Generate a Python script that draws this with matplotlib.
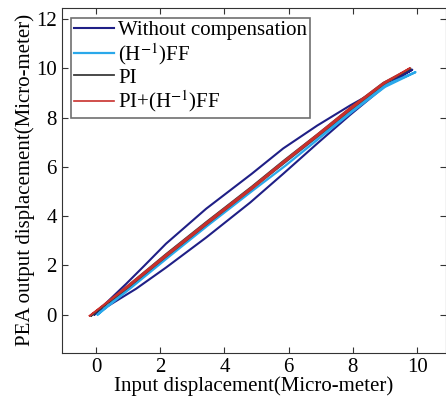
import numpy as np
import matplotlib.pyplot as plt

plt.rcParams['font.family'] = ['Liberation Serif', 'DejaVu Serif']
plt.rcParams['mathtext.fontset'] = 'stix'

# without compensation: ascending (lower) and descending (upper) branches
raw_up_x = [-0.05, 0.5, 1.25, 2.18, 3.43, 4.8, 5.83, 6.89, 7.92, 8.95, 9.4, 9.85]
raw_up_y = [0.0, 0.45, 1.05, 1.91, 3.13, 4.55, 5.72, 6.95, 8.12, 9.23, 9.62, 9.95]
raw_dn_x = [9.85, 9.4, 8.95, 7.92, 6.89, 5.83, 4.85, 3.43, 2.18, 1.5, 0.94, 0.3, -0.05]
raw_dn_y = [9.95, 9.6, 9.25, 8.5, 7.68, 6.75, 5.72, 4.3, 2.88, 1.98, 1.25, 0.45, 0.0]

# (H^-1)FF
ff_x = [0.05, 1.1, 2.25, 3.5, 4.9, 5.9, 6.95, 8.0, 9.0, 9.95, 9.0, 8.0, 6.95, 5.9, 4.9, 3.5, 2.25, 1.1, 0.05]
ff_y = [0.0, 1.1, 2.33, 3.64, 5.06, 6.05, 7.16, 8.26, 9.25, 9.85, 9.32, 8.36, 7.28, 6.2, 5.2, 3.76, 2.45, 1.2, 0.0]

# PI
pi_x = [-0.15, 1.0, 2.18, 3.43, 4.85, 5.83, 6.89, 7.92, 8.95, 9.8, 8.95, 7.92, 6.89, 5.83, 4.85, 3.43, 2.18, 1.0, -0.15]
pi_y = [-0.05, 1.1, 2.35, 3.65, 5.1, 6.13, 7.23, 8.32, 9.35, 10.0, 9.42, 8.4, 7.32, 6.24, 5.2, 3.76, 2.46, 1.18, -0.05]

# PI+(H^-1)FF
pf_x = [-0.2, 1.0, 2.18, 3.43, 4.85, 5.83, 6.89, 7.92, 8.95, 9.78, 8.95, 7.92, 6.89, 5.83, 4.85, 3.43, 2.18, 1.0, -0.2]
pf_y = [-0.05, 1.12, 2.36, 3.66, 5.1, 6.14, 7.24, 8.33, 9.36, 10.02, 9.42, 8.41, 7.32, 6.22, 5.18, 3.74, 2.44, 1.19, -0.05]

fig = plt.figure(figsize=(4.46, 4.03), dpi=100)
ax = fig.add_axes([0.1383, 0.1248, 0.8617, 0.855])

ax.plot(raw_up_x + raw_dn_x, raw_up_y + raw_dn_y, color='#1f1f86', lw=1.5, label='Without compensation')
ax.plot(ff_x, ff_y, color='#2aa8ea', lw=1.6, label='(H$^{-1}$)FF')
ax.plot(pi_x, pi_y, color='#3a3a3a', lw=1.3, label='PI')
ax.plot(pf_x, pf_y, color='#c8302c', lw=1.2, label='PI+(H$^{-1}$)FF')

ax.set_xlim(-1.07, 10.9)
ax.set_ylim(-1.55, 12.45)
ax.set_xticks([0, 2, 4, 6, 8, 10])
ax.set_yticks([0, 2, 4, 6, 8, 10, 12])
ax.tick_params(direction='in', top=True, right=True, length=4, labelsize=15, color='#333333')
for s in ax.spines.values():
    s.set_color('#333333')

ax.set_xlabel('Input displacement(Micro-meter)', fontsize=15, labelpad=0)
ax.set_ylabel('PEA output displacement(Micro-meter)', fontsize=15, labelpad=1)

leg = ax.legend(loc='upper left', fontsize=15, fancybox=False, handlelength=1.9,
                handletextpad=0.2, borderpad=0.15, labelspacing=0.05,
                borderaxespad=0.45, framealpha=1)
leg.get_frame().set_edgecolor('#707070')
leg.get_frame().set_linewidth(1.2)

fig.savefig('out.png', dpi=100)
